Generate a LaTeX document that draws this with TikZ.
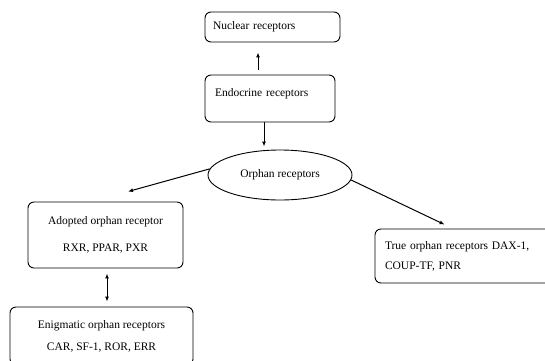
\documentclass[tikz,border=0pt]{standalone}
\usepackage{fontspec}
\setmainfont{Liberation Serif}
\usetikzlibrary{shapes.geometric}
\usetikzlibrary{arrows.meta}
\begin{document}
\begin{tikzpicture}[x=1pt,y=-1pt,
  box/.style={draw,rounded corners=6pt,line width=0.9pt,inner sep=0pt},
  arr/.style={line width=1pt,-{Latex[length=5pt,width=4pt]}},
  dbl/.style={line width=1pt,{Latex[length=5pt,width=4pt]}-{Latex[length=5pt,width=4pt]}},
  font=\fontsize{11.5}{13}\selectfont]
\useasboundingbox (0,0) rectangle (545,360);
\clip (0,0) rectangle (545,360);
\node [box,minimum width=135pt,minimum height=30pt,text width=119pt,align=left] (nuc) at (272.5,27) {Nuclear receptors};
\node [box,minimum width=130pt,minimum height=47pt,text width=110pt,text depth=12pt,align=left] (endo) at (270,98.5) {Endocrine receptors};
\node [draw,ellipse,line width=0.9pt,inner sep=0pt,minimum width=144pt,minimum height=50pt] (orph) at (280,175) {Orphan receptors};
\node [box,minimum width=155pt,minimum height=66pt,align=center] (adop) at (105.5,235) {Adopted orphan receptor\\[14pt]RXR, PPAR, PXR};
\node [box,minimum width=183pt,minimum height=58pt,align=center] (enig) at (101.5,336) {Enigmatic orphan receptors\\[9pt]CAR, SF-1, ROR, ERR};
\node [box,minimum width=190pt,minimum height=54pt,text width=170pt,align=left] (true) at (470,256) {True orphan receptors DAX-1,\\[7pt]COUP-TF, PNR};
% connectors
\draw [arr] ([xshift=-12pt,yshift=5pt]endo.north) -- ([xshift=-14.5pt,yshift=-10pt]nuc.south);
\draw [arr] ([xshift=-6pt]endo.south) -- ([xshift=-16pt,yshift=3pt]orph.north);
\draw [arr] (orph.175) -- ([xshift=22.5pt,yshift=10pt]adop.north);
\draw [arr] (orph.-4) -- ([xshift=70pt,yshift=4pt]true.north west);
\draw [dbl] ([xshift=1.5pt,yshift=-5pt]adop.south) -- ([xshift=5.5pt,yshift=5pt]enig.north);
\end{tikzpicture}
\end{document}
